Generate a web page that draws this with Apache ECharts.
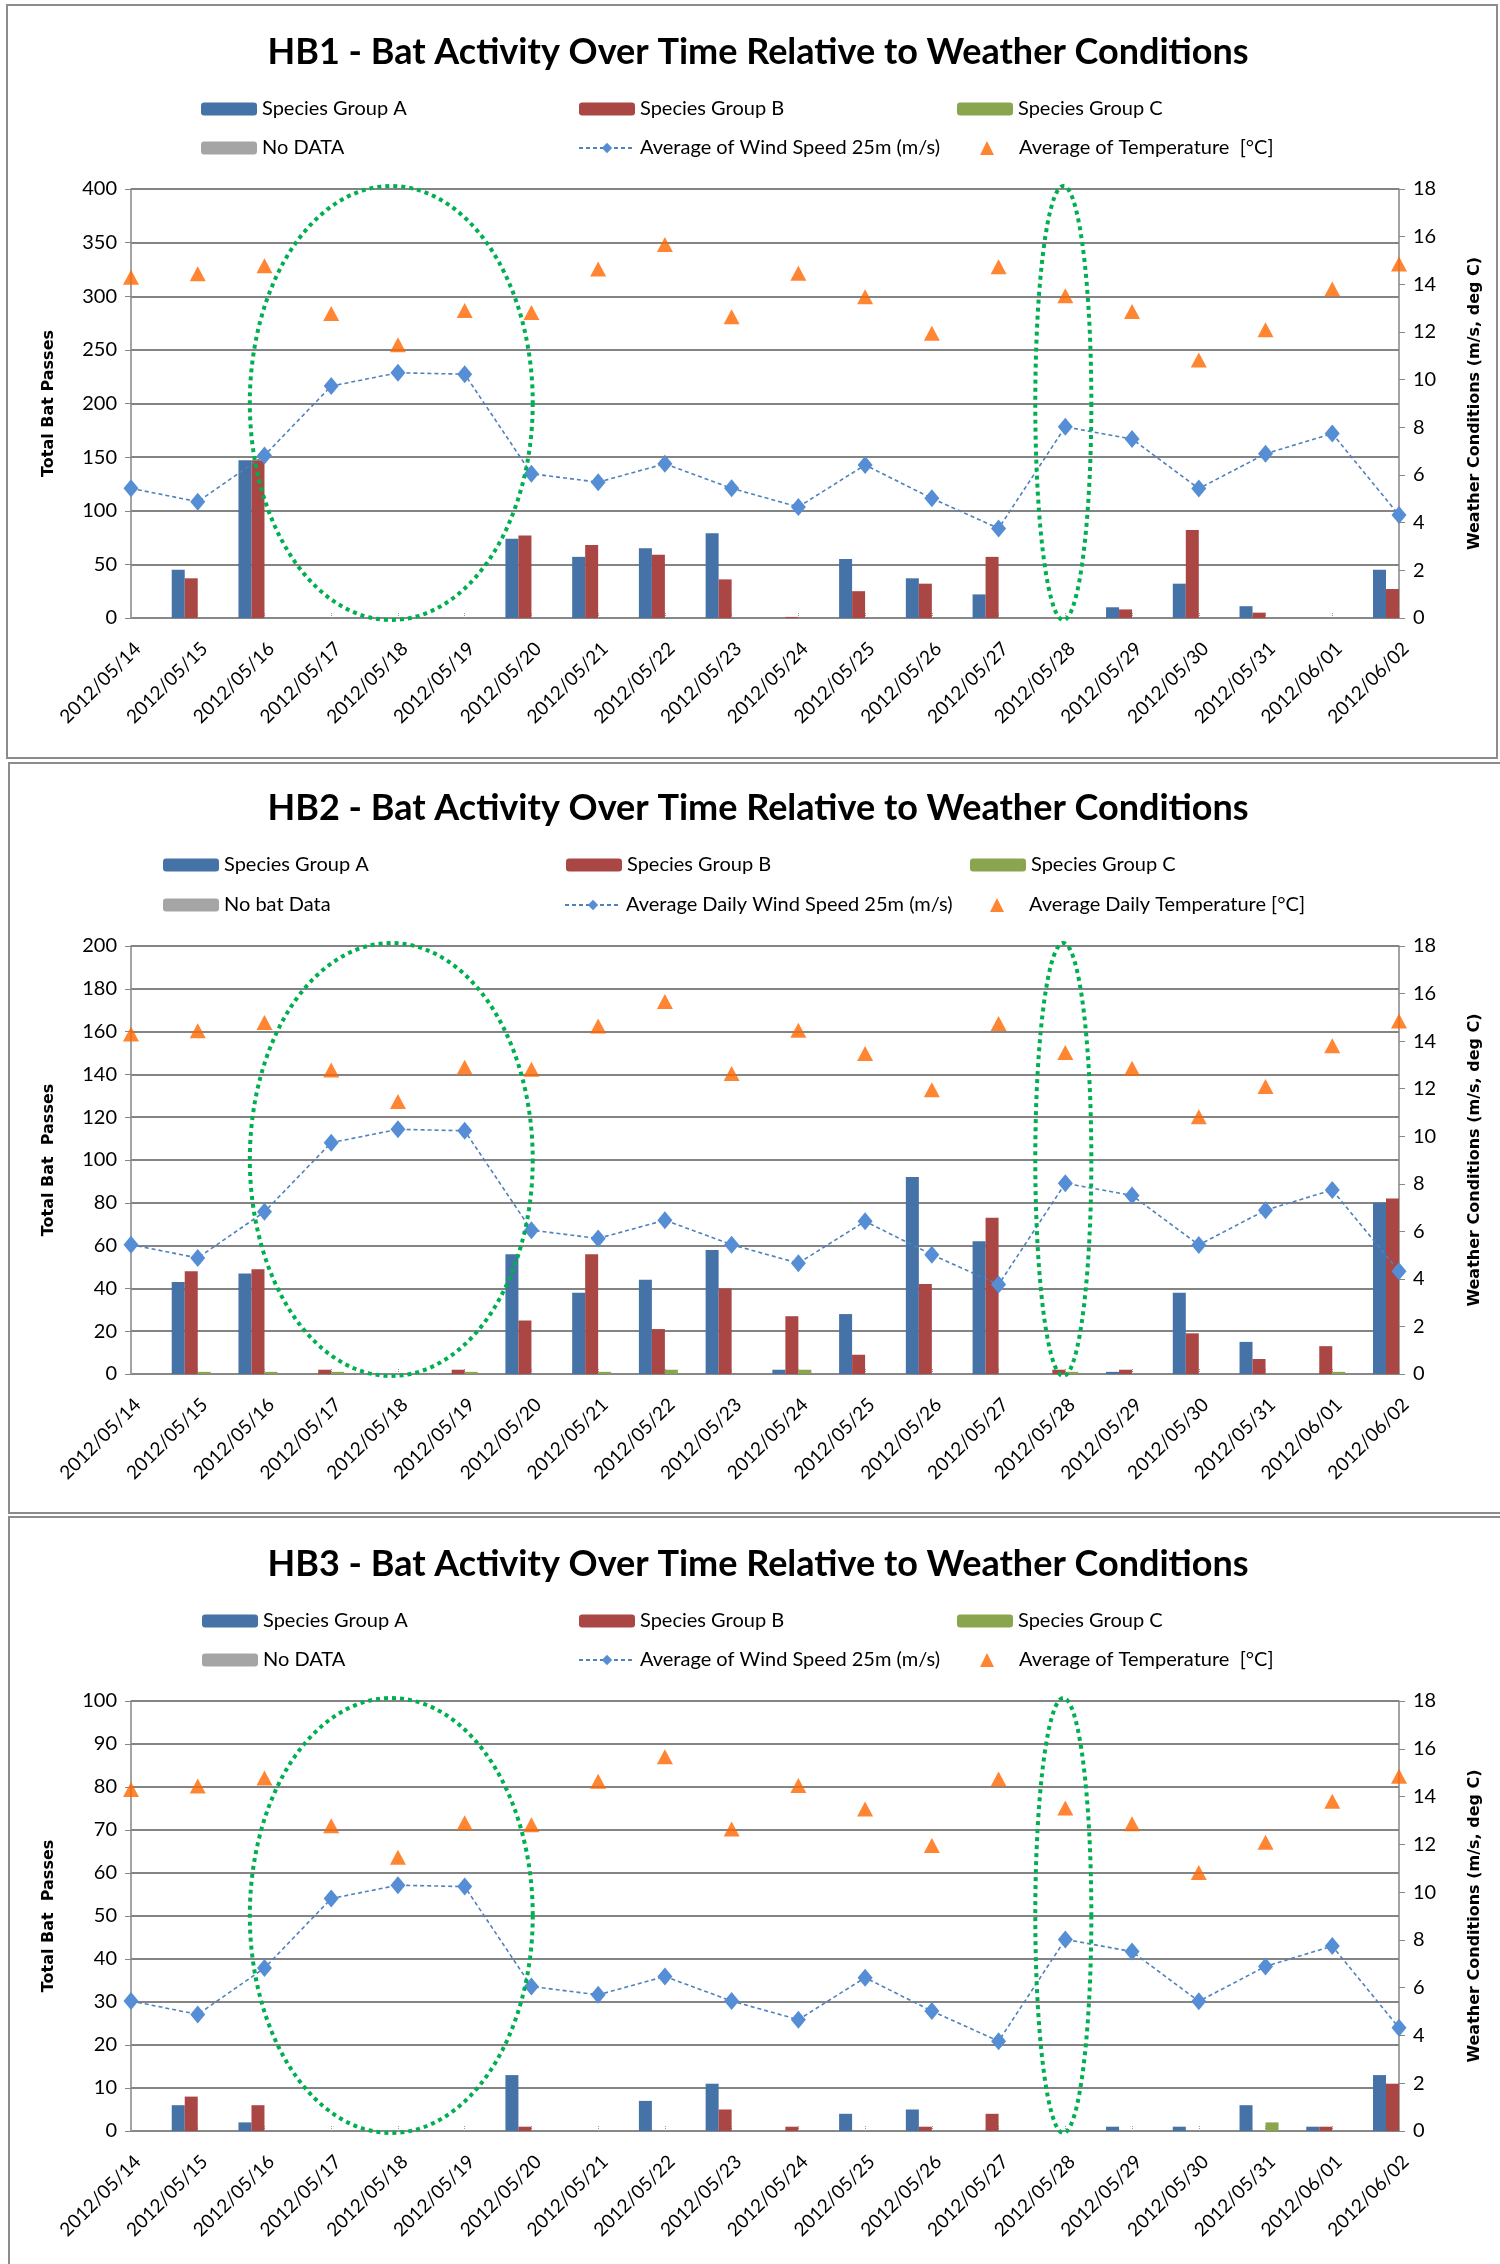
<!DOCTYPE html>
<html>
<head>
<meta charset="utf-8">
<script src="https://cdn.jsdelivr.net/npm/echarts@6/dist/echarts.min.js"></script>
<style>
  html, body { margin: 0; padding: 0; background: #fff; }
  #chart { width: 1500px; height: 2264px; }
</style>
</head>
<body>
<div id="chart"></div>
<script>
// categories (x axis)
const dates = [
  '2012/05/14', '2012/05/15', '2012/05/16', '2012/05/17', '2012/05/18',
  '2012/05/19', '2012/05/20', '2012/05/21', '2012/05/22', '2012/05/23',
  '2012/05/24', '2012/05/25', '2012/05/26', '2012/05/27', '2012/05/28',
  '2012/05/29', '2012/05/30', '2012/05/31', '2012/06/01', '2012/06/02'
];

// weather (same in all three charts)
const windSpeed = [5.44, 4.88, 6.82, 9.73, 10.29, 10.23, 6.05, 5.70, 6.47, 5.44,
  4.66, 6.42, 5.02, 3.76, 8.02, 7.51, 5.43, 6.89, 7.74, 4.32];
const temperature = [14.30, 14.44, 14.78, 12.78, 11.46, 12.90, 12.82, 14.64, 15.67, 12.64,
  14.46, 13.48, 11.95, 14.74, 13.52, 12.86, 10.82, 12.09, 13.80, 14.85];

// HB1 bat passes
const hb1GroupA = [0, 45, 147, 0, 0, 0, 74, 57, 65, 79, 0, 55, 37, 22, 0, 10, 32, 11, 0, 45];
const hb1GroupB = [0, 37, 147, 0, 0, 0, 77, 68, 59, 36, 1, 25, 32, 57, 0, 8, 82, 5, 0, 27];
const hb1GroupC = [0, 0, 0, 0, 0, 0, 0, 0, 0, 0, 0, 0, 0, 0, 0, 0, 0, 0, 0, 0];
const hb1NoData = [0, 0, 0, 0, 0, 0, 0, 0, 0, 0, 0, 0, 0, 0, 0, 0, 0, 0, 0, 0];

// HB2 bat passes
const hb2GroupA = [0, 43, 47, 0, 0, 0, 56, 38, 44, 58, 2, 28, 92, 62, 0, 1, 38, 15, 0, 80];
const hb2GroupB = [0, 48, 49, 2, 0, 2, 25, 56, 21, 40, 27, 9, 42, 73, 2, 2, 19, 7, 13, 82];
const hb2GroupC = [0, 1, 1, 1, 0, 1, 0, 1, 2, 0, 2, 0, 0, 0, 1, 0, 0, 0, 1, 0];
const hb2NoData = [0, 0, 0, 0, 0, 0, 0, 0, 0, 0, 0, 0, 0, 0, 0, 0, 0, 0, 0, 0];

// HB3 bat passes
const hb3GroupA = [0, 6, 2, 0, 0, 0, 13, 0, 7, 11, 0, 4, 5, 0, 0, 1, 1, 6, 1, 13];
const hb3GroupB = [0, 8, 6, 0, 0, 0, 1, 0, 0, 5, 1, 0, 1, 4, 0, 0, 0, 0, 1, 11];
const hb3GroupC = [0, 0, 0, 0, 0, 0, 0, 0, 0, 0, 0, 0, 0, 0, 0, 0, 0, 2, 0, 0];
const hb3NoData = [0, 0, 0, 0, 0, 0, 0, 0, 0, 0, 0, 0, 0, 0, 0, 0, 0, 0, 0, 0];

// axis ranges
const leftMax = [400, 200, 100];
const leftStep = [50, 20, 10];
const rightMax = 18;
const rightStep = 2;

const FONT = 'Lato, "Open Sans", sans-serif';
const BOLD = '"DejaVu Sans", Verdana, sans-serif';
const GRID_COLOR = '#848484';
const AXIS_COLOR = '#868686';
const COLORS = ['#4572A7', '#AA4643', '#89A54E', '#A5A5A5'];

const panels = [
  {
    title: 'HB1 - Bat Activity Over Time Relative to Weather Conditions',
    titleY: 52, rows: [109, 148], top: 189, bottom: 618,
    yName: 'Total Bat Passes',
    names: ['Species Group A', 'Species Group B', 'Species Group C', 'No DATA',
      'Average of Wind Speed 25m (m/s)', 'Average of Temperature  [°C]'],
    legX: [201, 579, 957, 201, 578, 980],
    bars: [hb1GroupA, hb1GroupB, hb1GroupC, hb1NoData]
  },
  {
    title: 'HB2 - Bat Activity Over Time Relative to Weather Conditions',
    titleY: 808, rows: [865, 905], top: 946, bottom: 1374,
    yName: 'Total Bat  Passes',
    names: ['Species Group A ', 'Species Group B ', 'Species Group C ', 'No bat Data',
      'Average Daily Wind Speed 25m (m/s)', 'Average Daily Temperature [°C]'],
    legX: [163, 566, 970, 163, 564, 990],
    bars: [hb2GroupA, hb2GroupB, hb2GroupC, hb2NoData]
  },
  {
    title: 'HB3 - Bat Activity Over Time Relative to Weather Conditions',
    titleY: 1564, rows: [1621, 1660], top: 1701, bottom: 2131,
    yName: 'Total Bat  Passes',
    names: ['Species Group A', 'Species Group B', 'Species Group C', 'No DATA',
      'Average of Wind Speed 25m (m/s)', 'Average of Temperature  [°C]'],
    legX: [202, 579, 957, 202, 578, 980],
    bars: [hb3GroupA, hb3GroupB, hb3GroupC, hb3NoData]
  }
];

const option = {
  animation: false,
  backgroundColor: '#fff',
  title: [], legend: [], grid: [], xAxis: [], yAxis: [], series: []
};

panels.forEach(function (p, i) {
  option.title.push({
    text: p.title, left: 758, top: p.titleY - 21, textAlign: 'center', padding: 0,
    textStyle: { fontFamily: FONT, fontSize: 36, fontWeight: 'bold', color: '#000', lineHeight: 42 }
  });

  // one legend component per item so that each sits where it does in the original
  p.names.forEach(function (nm, k) {
    const isTemp = k === 5;
    const leg = {
      data: [nm], left: p.legX[k], top: p.rows[k < 3 ? 0 : 1] - 12, padding: 0,
      selectedMode: false, itemWidth: isTemp ? 14 : 56, itemHeight: isTemp ? 14 : 13,
      textStyle: { fontFamily: FONT, fontSize: 20, color: '#000', lineHeight: 24 }
    };
    if (isTemp) leg.textStyle.padding = [0, 0, 0, 20];
    option.legend.push(leg);
  });

  option.grid.push({ left: 131, right: 101, top: p.top, height: p.bottom - p.top });

  option.xAxis.push({
    gridIndex: i, type: 'category', data: dates, boundaryGap: false,
    axisLine: { lineStyle: { color: '#8a8a8a', type: 'dotted', width: 1.5 } },
    axisTick: { show: true, inside: true, length: 5, lineStyle: { color: '#999', type: 'dotted' } },
    axisLabel: { rotate: 45, interval: 0, fontSize: 19, fontFamily: FONT, color: '#000',
      margin: 21, verticalAlign: 'top' },
    splitLine: { show: false }
  });

  option.yAxis.push({
    gridIndex: i, type: 'value', position: 'left', min: 0, max: leftMax[i], interval: leftStep[i],
    name: p.yName, nameLocation: 'middle', nameGap: 74,
    nameTextStyle: { fontFamily: BOLD, fontWeight: 'bold', fontSize: 16, color: '#000' },
    axisLine: { show: true, lineStyle: { color: AXIS_COLOR, width: 1.5 } },
    axisTick: { show: true, length: 6, lineStyle: { color: AXIS_COLOR } },
    axisLabel: { fontSize: 20, fontFamily: FONT, color: '#000', margin: 14 },
    splitLine: { lineStyle: { color: GRID_COLOR, width: 2 } }
  });
  option.yAxis.push({
    gridIndex: i, type: 'value', position: 'right', min: 0, max: rightMax, interval: rightStep,
    name: 'Weather Conditions (m/s, deg C)', nameLocation: 'middle', nameGap: 68,
    nameTextStyle: { fontFamily: BOLD, fontWeight: 'bold', fontSize: 16, color: '#000' },
    axisLine: { show: true, lineStyle: { color: AXIS_COLOR, width: 1.5 } },
    axisTick: { show: true, length: 6, lineStyle: { color: AXIS_COLOR } },
    axisLabel: { fontSize: 20, fontFamily: FONT, color: '#000', margin: 14 },
    splitLine: { show: false }
  });

  p.bars.forEach(function (vals, k) {
    option.series.push({
      name: p.names[k], type: 'bar', xAxisIndex: i, yAxisIndex: 2 * i,
      data: vals, barWidth: 13, barGap: '0%', itemStyle: { color: COLORS[k] }, z: 2
    });
  });
  option.series.push({
    name: p.names[4], type: 'line', xAxisIndex: i, yAxisIndex: 2 * i + 1, data: windSpeed,
    symbol: 'diamond', symbolSize: [15, 18],
    lineStyle: { color: '#4F81BD', width: 1.6, type: [4, 3] },
    itemStyle: { color: '#558ED5' }, z: 3
  });
  option.series.push({
    name: p.names[5], type: 'scatter', xAxisIndex: i, yAxisIndex: 2 * i + 1, data: temperature,
    symbol: 'triangle', symbolSize: [16, 15], itemStyle: { color: '#FF6600' }, z: 4
  });
});

const chart = echarts.init(document.getElementById('chart'), null, { renderer: 'canvas' });
chart.setOption(option);

// panel frames and the dotted green ellipses marking the calm / no-activity nights
const frames = [[7, 5, 1490, 753], [9, 763, 1500, 750], [9, 1517, 1500, 760]];
const circled = [[3.9, 2.12], [13.97, 0.42]]; // centre and half-width, in category steps
const graphic = [];
frames.forEach(function (f) {
  graphic.push({ type: 'rect', shape: { x: f[0], y: f[1], width: f[2], height: f[3] },
    style: { fill: 'none', stroke: '#8c8c8c', lineWidth: 2 }, silent: true, z: -1 });
});
panels.forEach(function (p, i) {
  const x0 = chart.convertToPixel({ xAxisIndex: i }, 0);
  const x1 = chart.convertToPixel({ xAxisIndex: i }, 1);
  const yTop = chart.convertToPixel({ yAxisIndex: 2 * i }, leftMax[i]) - 3;
  const yBot = chart.convertToPixel({ yAxisIndex: 2 * i }, 0) + 2;
  const step = x1 - x0;
  circled.forEach(function (c) {
    const cx = x0 + c[0] * step, rx = c[1] * step;
    const cy = (yTop + yBot) / 2, ry = (yBot - yTop) / 2;
    const pts = [];
    for (let k = 0; k < 160; k++) {
      const t = k / 160 * Math.PI * 2;
      pts.push([cx + rx * Math.cos(t), cy + ry * Math.sin(t)]);
    }
    graphic.push({ type: 'polygon', shape: { points: pts }, silent: true, z: 100,
      style: { fill: 'none', stroke: '#00B050', lineWidth: 4, lineDash: [4, 4] } });
  });
});
chart.setOption({ graphic: graphic });
</script>
</body>
</html>
